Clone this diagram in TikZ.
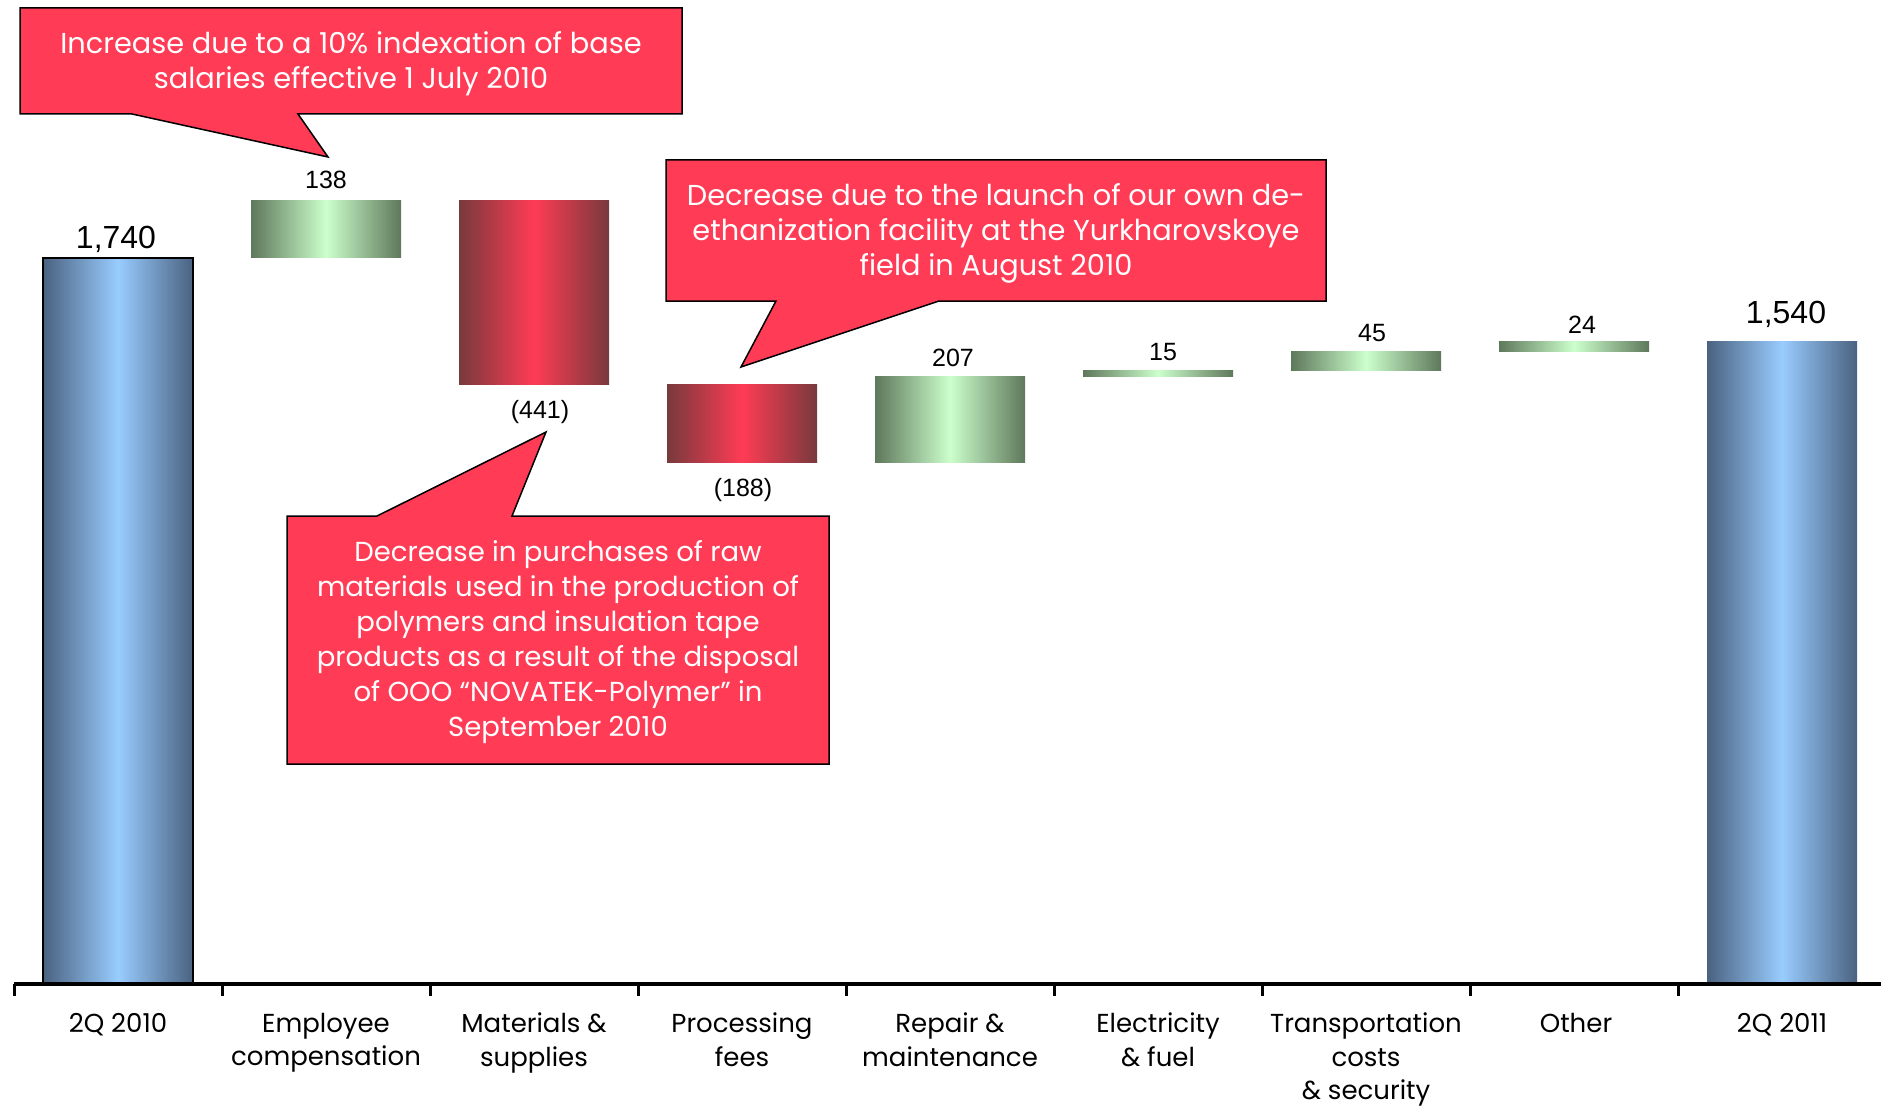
\documentclass[tikz,border=0pt]{standalone}
\usepackage{fontspec}
\setmainfont{Poppins}
\newfontfamily\numfont{Liberation Sans}
\usepackage{tikz}
\usetikzlibrary{calc}
\definecolor{calloutred}{HTML}{FF3B55}
\definecolor{totaldark}{HTML}{4A6280}
\definecolor{totallight}{HTML}{99CCFF}
\definecolor{gaindark}{HTML}{5E785B}
\definecolor{gainlight}{HTML}{CCFFCC}
\definecolor{lossdark}{HTML}{773A3C}
\definecolor{losslight}{HTML}{FF3B55}

\begin{document}
\begin{tikzpicture}[x=1pt,y=-1pt
	,font=\fontsize{26}{33.5}\selectfont
	,line join=miter]
  \tikzstyle{total}=[left color=totaldark,right color=totaldark,middle color=totallight]
  \tikzstyle{gain}=[left color=gaindark,right color=gaindark,middle color=gainlight]
  \tikzstyle{loss}=[left color=lossdark,right color=lossdark,middle color=losslight]
  \tikzstyle{callout}=[fill=calloutred,draw=black,line width=1.5pt]
  \tikzstyle{calltext}=[text=white,align=center,font=\fontsize{27.5}{35}\selectfont]
  \tikzstyle{widetext}=[calltext,font=\fontsize{28.8}{35}\selectfont]
  \tikzstyle{vallbl}=[inner sep=0pt,font=\numfont\fontsize{25}{30}\selectfont]
  \tikzstyle{totlbl}=[inner sep=0pt,font=\numfont\fontsize{32}{38}\selectfont]
  \tikzstyle{catlbl}=[inner sep=0pt,anchor=north,align=center]

  \useasboundingbox (0,0) rectangle (1881,1107);

  % bars, left to right
  \path [total] (43,258)    rectangle (193,983);
  \draw [line width=1.2pt] (43,983) -- (43,258) -- (193,258) -- (193,983);
  \path [gain ] (251,200.4)  rectangle (401,258);
  \path [loss ] (459,200.4)  rectangle (609,384.2);
  \path [loss ] (667,384.2)  rectangle (817,462.5);
  \path [gain ] (875,376.3)  rectangle (1025,462.5);
  \path [gain ] (1083,370.1) rectangle (1233,376.3);
  \path [gain ] (1291,351.3) rectangle (1441,370.1);
  \path [gain ] (1499,341.3) rectangle (1649,351.3);
  \path [total] (1707,341.3) rectangle (1857,983);

  % values
  \node[totlbl] (v2q10)   at (116,239)  {1,740};
  \node[vallbl] (vemp)    at (326,180)  {138};
  \node[vallbl] (vmat)    at (540,412)  {(441)};
  \node[vallbl] (vproc)   at (743,490)  {(188)};
  \node[vallbl] (vrep)    at (953,358)  {207};
  \node[vallbl] (velec)   at (1163,352) {15};
  \node[vallbl] (vtrans)  at (1372,333) {45};
  \node[vallbl] (vother)  at (1582,325) {24};
  \node[totlbl] (v2q11)   at (1786,314) {1,540};

  % axis
  \draw [line width=4pt] (14,984) -- (1881,984);
  \draw [line width=3pt] (14,984)   -- (14,996);
  \draw [line width=3pt] (222,984)  -- (222,996);
  \draw [line width=3pt] (430,984)  -- (430,996);
  \draw [line width=3pt] (638,984)  -- (638,996);
  \draw [line width=3pt] (846,984)  -- (846,996);
  \draw [line width=3pt] (1054,984) -- (1054,996);
  \draw [line width=3pt] (1262,984) -- (1262,996);
  \draw [line width=3pt] (1470,984) -- (1470,996);
  \draw [line width=3pt] (1678,984) -- (1678,996);

  % categories
  \node[catlbl] (c2q10)  at (118,1013)  {2Q 2010};
  \node[catlbl] (cemp)   at (326,1013)  {Employee\\compensation};
  \node[catlbl] (cmat)   at (534,1013)  {Materials \&\\supplies};
  \node[catlbl] (cproc)  at (742,1013)  {Processing\\fees};
  \node[catlbl] (crep)   at (950,1013)  {Repair \&\\maintenance};
  \node[catlbl] (celec)  at (1158,1013) {Electricity\\\& fuel};
  \node[catlbl] (ctrans) at (1366,1013) {Transportation\\costs\\\& security};
  \node[catlbl] (cother) at (1576,1013) {Other};
  \node[catlbl] (c2q11)  at (1782,1013) {2Q 2011};

  % callouts
  \draw [callout] (20,8) -- (682,8) -- (682,114) -- (298,114)
    -- (328,157) -- (132,114) -- (20,114) -- cycle;
  \node[widetext] (noteemp) at (351,64)
    {Increase due to a 10\% indexation of base\\salaries effective 1 July 2010};

  \draw [callout] (666,160) -- (1326,160) -- (1326,301) -- (939,301)
    -- (741,367) -- (776,301) -- (666,301) -- cycle;
  \node[widetext] (noteproc) at (996,233)
    {Decrease due to the launch of our own de-\\ethanization facility at the Yurkharovskoye\\field in August 2010};

  \draw [callout] (287,516) -- (377,516) -- (546,432) -- (512,516)
    -- (829,516) -- (829,764) -- (287,764) -- cycle;
  \node[calltext] (notemat) at (558,642)
    {Decrease in purchases of raw\\materials used in the production of\\polymers and insulation tape\\products as a result of the disposal\\of OOO “NOVATEK-Polymer” in\\September 2010};
\end{tikzpicture}
\end{document}
